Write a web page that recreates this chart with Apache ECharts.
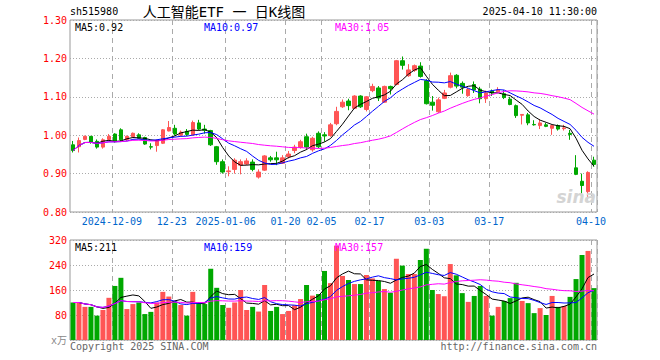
<!DOCTYPE html>
<html><head><meta charset="utf-8">
<script src="https://cdn.jsdelivr.net/npm/echarts@6/dist/echarts.min.js"></script>
<style>html,body{margin:0;padding:0;background:#fff}#c{width:660px;height:360px}</style>
</head><body><div id="c"></div>
<script>
const dates = ['2024-11-28','2024-11-29','2024-12-02','2024-12-03','2024-12-04','2024-12-05','2024-12-06','2024-12-09','2024-12-10','2024-12-11',
'2024-12-12','2024-12-13','2024-12-16','2024-12-17','2024-12-18','2024-12-19','2024-12-20','2024-12-23','2024-12-24','2024-12-25',
'2024-12-26','2024-12-27','2024-12-30','2024-12-31','2025-01-02','2025-01-03','2025-01-06','2025-01-07','2025-01-08','2025-01-09',
'2025-01-10','2025-01-13','2025-01-14','2025-01-15','2025-01-16','2025-01-17','2025-01-20','2025-01-21','2025-01-22','2025-01-23',
'2025-01-24','2025-01-27','2025-02-05','2025-02-06','2025-02-07','2025-02-10','2025-02-11','2025-02-12','2025-02-13','2025-02-14',
'2025-02-17','2025-02-18','2025-02-19','2025-02-20','2025-02-21','2025-02-24','2025-02-25','2025-02-26','2025-02-27','2025-02-28',
'2025-03-03','2025-03-04','2025-03-05','2025-03-06','2025-03-07','2025-03-10','2025-03-11','2025-03-12','2025-03-13','2025-03-14',
'2025-03-17','2025-03-18','2025-03-19','2025-03-20','2025-03-21','2025-03-24','2025-03-25','2025-03-26','2025-03-27','2025-03-28',
'2025-03-31','2025-04-01','2025-04-02','2025-04-03','2025-04-07','2025-04-08','2025-04-09','2025-04-10'];

const openP = [0.975,0.970,0.989,0.997,0.984,0.969,0.989,1.003,1.014,0.989,
0.996,1.001,0.994,0.970,0.973,0.979,1.011,1.018,1.000,1.010,
1.001,1.032,1.016,1.012,0.970,0.931,0.905,0.911,0.922,0.925,
0.930,0.891,0.909,0.941,0.941,0.927,0.944,0.960,0.968,0.996,
0.962,1.005,1.001,0.999,1.030,1.074,1.089,1.070,1.102,1.067,
1.116,1.123,1.086,1.127,1.132,1.194,1.155,1.169,1.180,1.142,
1.086,1.061,1.096,1.125,1.156,1.135,1.103,1.132,1.120,1.095,
1.115,1.113,1.108,1.094,1.077,1.052,1.053,1.028,1.025,1.027,
1.018,1.025,1.017,1.005,0.915,0.880,0.853,0.935];

const closeP = [0.960,0.986,0.997,0.982,0.969,0.988,0.997,0.983,0.988,0.997,
1.005,0.992,0.977,0.969,0.985,1.014,1.020,1.003,1.008,1.002,
1.033,1.016,1.013,0.975,0.931,0.904,0.907,0.935,0.931,0.933,
0.911,0.904,0.946,0.936,0.936,0.941,0.951,0.969,0.983,0.969,
0.992,0.970,0.998,1.027,1.062,1.086,1.077,1.102,1.074,1.100,
1.127,1.097,1.127,1.121,1.194,1.182,1.170,1.181,1.153,1.082,
1.078,1.092,1.110,1.155,1.128,1.125,1.119,1.118,1.095,1.110,
1.110,1.118,1.098,1.080,1.051,1.054,1.032,1.027,1.032,1.023,
1.025,1.016,1.019,1.002,0.898,0.869,0.903,0.924];

const lowP = [0.955,0.955,0.987,0.978,0.965,0.965,0.987,0.981,0.985,0.985,
0.994,0.990,0.975,0.963,0.957,0.977,1.010,0.999,0.997,0.998,
0.999,1.013,1.004,0.972,0.923,0.900,0.893,0.900,0.898,0.922,
0.906,0.887,0.907,0.931,0.922,0.925,0.939,0.953,0.965,0.962,
0.957,0.966,0.983,0.996,1.026,1.071,1.065,1.068,1.071,1.062,
1.112,1.089,1.084,1.106,1.130,1.171,1.152,1.165,1.150,1.080,
1.064,1.058,1.094,1.122,1.122,1.108,1.100,1.110,1.083,1.084,
1.102,1.112,1.094,1.078,1.045,1.028,1.026,1.025,1.016,1.021,
1.001,1.012,1.012,0.988,0.896,0.845,0.833,0.918];

const highP = [0.985,0.994,0.999,0.998,0.989,0.992,1.003,1.005,1.018,0.999,
1.007,1.005,0.996,0.979,0.989,1.016,1.037,1.027,1.012,1.016,
1.038,1.040,1.027,1.014,0.972,0.937,0.919,0.940,0.937,0.940,
0.937,0.911,0.948,0.946,0.957,0.948,0.959,0.975,0.988,1.004,
0.996,1.010,1.008,1.032,1.074,1.093,1.095,1.104,1.104,1.102,
1.134,1.128,1.129,1.129,1.196,1.205,1.185,1.184,1.190,1.146,
1.102,1.098,1.118,1.163,1.159,1.140,1.123,1.140,1.126,1.116,
1.119,1.125,1.117,1.100,1.080,1.055,1.058,1.039,1.042,1.032,
1.027,1.028,1.027,1.014,0.948,0.900,0.906,0.944];

// volume in 万手
const volume = [120,120,106,106,78,96,135,173,199,99,
115,120,83,90,120,154,139,123,112,78,
154,120,115,228,167,112,103,120,160,96,
106,91,176,93,106,83,93,111,131,176,
142,147,221,182,302,205,192,179,179,208,
197,189,163,151,260,238,211,211,256,292,
160,147,140,243,207,150,122,141,173,141,
78,106,125,134,183,125,118,86,102,80,
141,106,109,138,195,272,285,166];

const tickDates = ['2024-12-09','2024-12-23','2025-01-06','2025-01-20','2025-02-05','2025-02-17','2025-03-03','2025-03-17','2025-04-10'];
const tickText  = ['2024-12-09','12-23','2025-01-06','01-20','02-05','02-17','03-03','03-17','04-10'];

const RED = '#ff5555', GREEN = '#00a800';
const FONT = '"DejaVu Sans Mono", "Noto Sans CJK SC", monospace';

function ma(arr, n) {
  return arr.map((v, i) => {
    const s = Math.max(0, i - n + 1);
    let t = 0;
    for (let j = s; j <= i; j++) t += arr[j];
    return t / (i - s + 1);
  });
}
const candles = dates.map((d, i) => [openP[i], closeP[i], lowP[i], highP[i]]);
const pMA5 = ma(closeP, 5), pMA10 = ma(closeP, 10), pMA30 = ma(closeP, 30);
const vMA5 = ma(volume, 5), vMA10 = ma(volume, 10), vMA30 = ma(volume, 30);
const last = dates.length - 1;
const tickIdx = tickDates.map(d => dates.indexOf(d));
const isTick = i => tickIdx.indexOf(i) >= 0;

const dash = { show: true, interval: (i) => isTick(i), lineStyle: { color: '#aaaaaa', type: [5, 4], width: 1 } };
const dotted = { show: true, lineStyle: { color: '#aaaaaa', type: [1, 2], width: 1 } };

const chart = echarts.init(document.getElementById('c'), null, { renderer: 'svg' });

function txt(x, y, text, fill, align, size, extra) {
  return Object.assign({ type: 'text', x: x, y: y, silent: true, z: 100,
    style: { text: text, fill: fill, font: (size || 10) + 'px ' + FONT, textAlign: align || 'left', textVerticalAlign: 'middle' } }, extra || {});
}

const option = {
  animation: false,
  textStyle: { fontFamily: FONT },
  grid: [
    { left: 70, right: 63, top: 20, height: 192, show: true, borderColor: '#999999', borderWidth: 1 },
    { left: 70, right: 63, top: 240, height: 100, show: true, borderColor: '#999999', borderWidth: 1 }
  ],
  xAxis: [
    { type: 'category', gridIndex: 0, data: dates, boundaryGap: true,
      axisLine: { show: false }, axisTick: { show: false },
      axisLabel: { interval: (i) => isTick(i), formatter: (v, i) => tickText[tickIdx.indexOf(i)],
        color: '#0066cc', fontSize: 10, fontFamily: FONT, margin: 4, padding: [0, 6, 0, 0] },
      splitLine: dash },
    { type: 'category', gridIndex: 1, data: dates, boundaryGap: true,
      axisLine: { show: false }, axisTick: { show: false }, axisLabel: { show: false },
      splitLine: dash }
  ],
  yAxis: [
    { type: 'value', gridIndex: 0, min: 0.8, max: 1.3, interval: 0.1,
      axisLine: { show: false }, axisTick: { show: false },
      axisLabel: { color: '#ff0000', fontSize: 10, fontFamily: FONT, margin: 3, formatter: v => v.toFixed(2) },
      splitLine: dotted },
    { type: 'value', gridIndex: 1, min: 0, max: 320, interval: 80,
      axisLine: { show: false }, axisTick: { show: false },
      axisLabel: { color: '#ff0000', fontSize: 10, fontFamily: FONT, margin: 3,
        formatter: v => v === 0 ? '{u|x万}' : String(v),
        rich: { u: { color: '#888888', fontSize: 10, fontFamily: FONT } } },
      splitLine: dotted }
  ],
  series: [
    { type: 'candlestick', xAxisIndex: 0, yAxisIndex: 0, data: candles, barWidth: 4,
      itemStyle: { color: RED, color0: GREEN, borderColor: RED, borderColor0: GREEN, borderWidth: 1 } },
    { type: 'line', xAxisIndex: 0, yAxisIndex: 0, data: pMA5, showSymbol: false, lineStyle: { color: '#000000', width: 1 }, z: 3 },
    { type: 'line', xAxisIndex: 0, yAxisIndex: 0, data: pMA10, showSymbol: false, lineStyle: { color: '#0000ff', width: 1 }, z: 3 },
    { type: 'line', xAxisIndex: 0, yAxisIndex: 0, data: pMA30, showSymbol: false, lineStyle: { color: '#ff00ff', width: 1 }, z: 3 },
    { type: 'bar', xAxisIndex: 1, yAxisIndex: 1, barWidth: 5,
      data: volume.map((v, i) => ({ value: v, itemStyle: { color: closeP[i] >= openP[i] ? RED : GREEN } })) },
    { type: 'line', xAxisIndex: 1, yAxisIndex: 1, data: vMA5, showSymbol: false, lineStyle: { color: '#000000', width: 1 }, z: 3 },
    { type: 'line', xAxisIndex: 1, yAxisIndex: 1, data: vMA10, showSymbol: false, lineStyle: { color: '#0000ff', width: 1 }, z: 3 },
    { type: 'line', xAxisIndex: 1, yAxisIndex: 1, data: vMA30, showSymbol: false, lineStyle: { color: '#ff00ff', width: 1 }, z: 3 }
  ],
  graphic: [
    txt(70, 11, 'sh515980', '#000000', 'left', 10),
    txt(224, 12, '人工智能ETF 一 日K线图', '#000000', 'center', 14),
    txt(597, 11, '2025-04-10 11:30:00', '#000000', 'right', 10),
    txt(75, 27, 'MA5:' + pMA5[last].toFixed(2), '#000000', 'left', 10),
    txt(204, 27, 'MA10:' + pMA10[last].toFixed(2), '#0000ff', 'left', 10),
    txt(335, 27, 'MA30:' + pMA30[last].toFixed(2), '#ff00ff', 'left', 10),
    txt(75, 247, 'MA5:' + Math.round(vMA5[last]), '#000000', 'left', 10),
    txt(204, 247, 'MA10:' + Math.round(vMA10[last]), '#0000ff', 'left', 10),
    txt(335, 247, 'MA30:' + Math.round(vMA30[last]), '#ff00ff', 'left', 10),
    txt(70, 346, 'Copyright 2025 SINA.COM', '#666666', 'left', 10),
    txt(597, 346, 'http://finance.sina.com.cn', '#666666', 'right', 10),
    { type: 'text', x: 596, y: 197, silent: true, z: 90,
      style: { text: 'sina', fill: '#d4d4d4', font: 'italic bold 17px "DejaVu Sans", sans-serif', textAlign: 'right', textVerticalAlign: 'middle' } }
  ]
};
chart.setOption(option);
</script>
</body></html>
